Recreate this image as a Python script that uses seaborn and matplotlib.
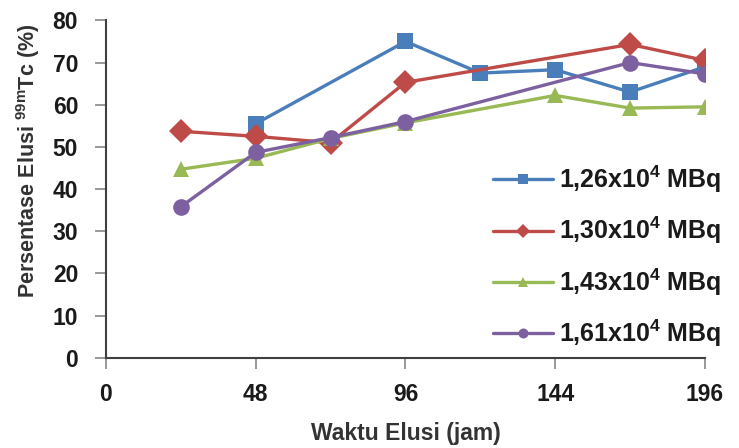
import pandas as pd
import matplotlib.pyplot as plt
import seaborn as sns

# data
x_blue = [48, 96, 120, 144, 168, 192]
y_blue = [55.5, 75.0, 67.5, 68.3, 63.0, 69.0]

x_red = [24, 48, 72, 96, 168, 192]
y_red = [53.7, 52.5, 51.0, 65.3, 74.3, 70.5]

x_green = [24, 48, 72, 96, 144, 168, 192]
y_green = [44.7, 47.3, 52.0, 55.7, 62.2, 59.2, 59.5]

x_purple = [24, 48, 72, 96, 168, 192]
y_purple = [35.8, 48.7, 52.2, 56.0, 70.0, 67.3]

labels = ["1,26x10$^{4}$ MBq", "1,30x10$^{4}$ MBq",
          "1,43x10$^{4}$ MBq", "1,61x10$^{4}$ MBq"]
colors = ["#4a7ebb", "#be4b48", "#98b954", "#7d60a0"]
markers = ["s", "D", "^", "o"]

xticks = [0, 48, 96, 144, 192]
xtick_labels = ["0", "48", "96", "144", "196"]
yticks = [0, 10, 20, 30, 40, 50, 60, 70, 80]

frames = []
for lab, xs, ys in zip(labels, [x_blue, x_red, x_green, x_purple],
                       [y_blue, y_red, y_green, y_purple]):
    frames.append(pd.DataFrame({"jam": xs, "elusi": ys, "seri": lab}))
df = pd.concat(frames, ignore_index=True)

sns.set_style("white")
plt.rcParams["font.family"] = ["Liberation Sans", "DejaVu Sans"]
plt.rcParams["mathtext.default"] = "regular"

fig = plt.figure(figsize=(7.39, 4.48), dpi=100)
ax = fig.add_axes([0.1434, 0.2015, 0.8106, 0.753])

sns.lineplot(data=df, x="jam", y="elusi", hue="seri", style="seri",
             hue_order=labels, style_order=labels,
             palette=dict(zip(labels, colors)),
             markers=dict(zip(labels, markers)), dashes=False,
             estimator=None, sort=True, linewidth=2.4, markersize=12,
             markeredgewidth=0, ax=ax)

ax.set_xlim(0, 192)
ax.set_ylim(0, 80)
ax.set_xticks(xticks)
ax.set_xticklabels(xtick_labels)
ax.set_yticks(yticks)

for side in ["top", "right"]:
    ax.spines[side].set_visible(False)
for side in ["left", "bottom"]:
    ax.spines[side].set_color("#404040")
    ax.spines[side].set_linewidth(1.5)

ax.tick_params(axis="both", direction="out", length=8, width=1.3,
               color="#909090", labelsize=16.5, bottom=True, left=True)
ax.tick_params(axis="x", pad=10)
ax.tick_params(axis="y", pad=12)
for t in ax.get_xticklabels() + ax.get_yticklabels():
    t.set_fontweight("bold")
    t.set_color("#1a1a1a")

ax.set_xlabel("Waktu Elusi (jam)", fontsize=16.5, fontweight="bold",
              color="#333333")
ax.xaxis.set_label_coords(0.5, -0.19)
ax.set_ylabel("Persentase Elusi $^{99m}$Tc (%)", fontsize=15.5,
              fontweight="bold", color="#333333")
ax.yaxis.set_label_coords(-0.107, 0.585)

leg = ax.legend(loc="center left", bbox_to_anchor=(0.667, 0.428),
                bbox_transform=fig.transFigure, frameon=False,
                fontsize=18, markerscale=0.6, handlelength=2.4,
                handletextpad=0.25, labelspacing=0.8,
                borderpad=0, borderaxespad=0)
for t in leg.get_texts():
    t.set_fontweight("bold")
    t.set_color("#1a1a1a")

fig.savefig("out.png", dpi=100)
